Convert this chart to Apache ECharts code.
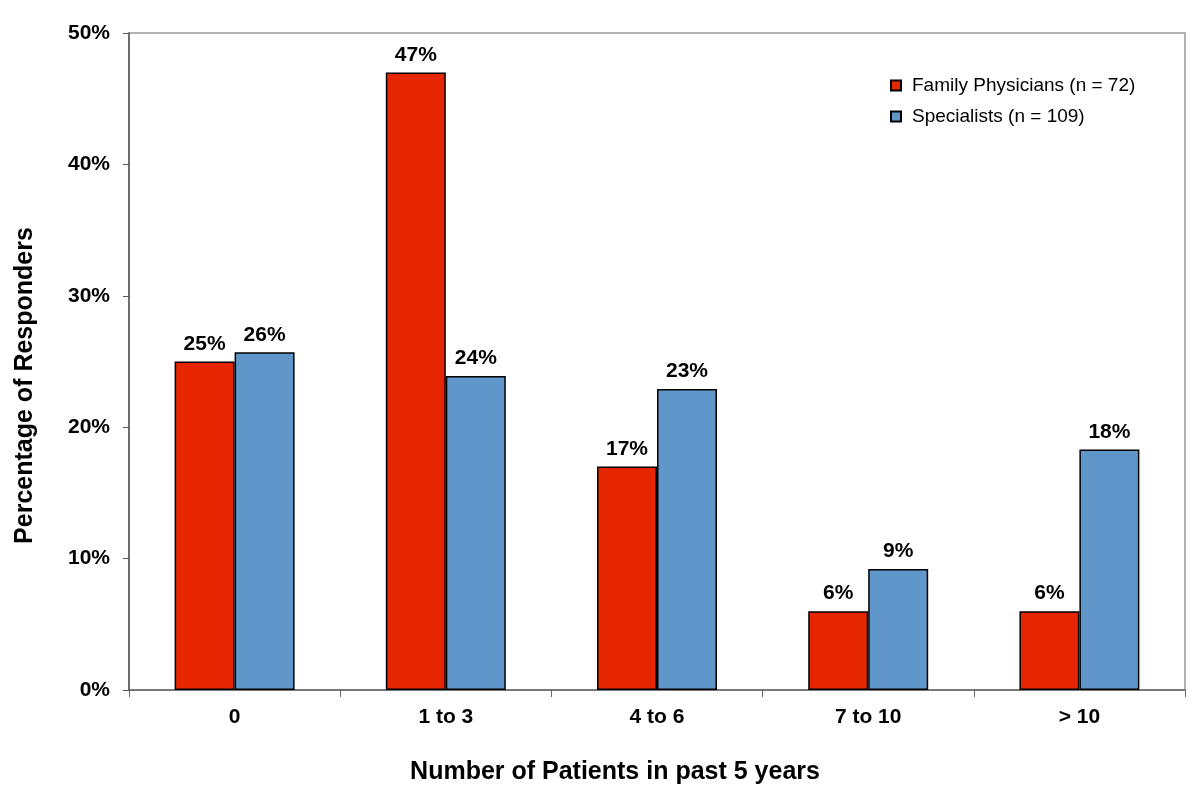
<!DOCTYPE html>
<html><head><meta charset="utf-8">
<script src="https://cdn.jsdelivr.net/npm/echarts@6/dist/echarts.min.js"></script>
<style>html,body{margin:0;padding:0;background:#fff}#c{width:1200px;height:805px}</style>
</head><body><div id="c"></div>
<script>
const categories = ['0', '1 to 3', '4 to 6', '7 to 10', '> 10'];
const familyPhysicians = [25, 47, 17, 6, 6];
const specialists = [25.7, 23.9, 22.9, 9.2, 18.3];
const yTicks = [0, 10, 20, 30, 40, 50];
const seriesNames = ['Family Physicians (n = 72)', 'Specialists (n = 109)'];

const FONT = 'Liberation Sans, Arial, sans-serif';
const chart = echarts.init(document.getElementById('c'), null, {renderer: 'canvas'});
const lbl = {show: true, position: 'top', distance: 7, fontFamily: FONT, fontWeight: 'bold', fontSize: 21, color: '#000',
  formatter: p => Math.round(p.value) + '%'};
chart.setOption({
  animation: false,
  backgroundColor: '#fff',
  grid: {left: 129, right: 15, top: 33, bottom: 115, show: true, borderColor: '#999', borderWidth: 1.5,
    containLabel: false, outerBoundsMode: 'none'},
  legend: {
    orient: 'vertical', left: 885, top: 71, itemWidth: 10, itemHeight: 10, itemGap: 12,
    icon: 'rect',
    textStyle: {fontFamily: FONT, fontSize: 19, color: '#000', padding: [0, 0, 0, 6]},
    data: seriesNames
  },
  xAxis: {
    type: 'category', data: categories,
    name: 'Number of Patients in past 5 years', nameLocation: 'middle', nameGap: 70,
    nameTextStyle: {fontFamily: FONT, fontWeight: 'bold', fontSize: 25, color: '#000', padding: [0, 84, 0, 0]},
    axisLine: {lineStyle: {color: '#666', width: 1.5}},
    axisTick: {show: true, length: 7, lineStyle: {color: '#666'}},
    axisLabel: {fontFamily: FONT, fontWeight: 'bold', fontSize: 21, color: '#000', margin: 17}
  },
  yAxis: {
    type: 'value', min: 0, max: 50, interval: 10,
    name: 'Percentage of Responders', nameLocation: 'middle', nameGap: 91, nameRotate: 90,
    nameTextStyle: {fontFamily: FONT, fontWeight: 'bold', fontSize: 25, color: '#000', padding: [0, 48, 0, 0]},
    axisLine: {show: true, lineStyle: {color: '#555', width: 1.5}},
    axisTick: {show: true, length: 6, lineStyle: {color: '#555'}},
    splitLine: {show: false},
    axisLabel: {fontFamily: FONT, fontWeight: 'bold', fontSize: 21, color: '#000', margin: 19,
      formatter: v => yTicks.includes(v) ? v + '%' : ''}
  },
  series: [
    {name: seriesNames[0], type: 'bar', data: familyPhysicians, barWidth: '28.4%', barGap: '0%',
      itemStyle: {color: '#E62600', borderColor: '#000', borderWidth: 1.5}, label: lbl},
    {name: seriesNames[1], type: 'bar', data: specialists, barWidth: '28.4%',
      itemStyle: {color: '#6097CA', borderColor: '#000', borderWidth: 1.5}, label: lbl}
  ]
});
</script></body></html>
